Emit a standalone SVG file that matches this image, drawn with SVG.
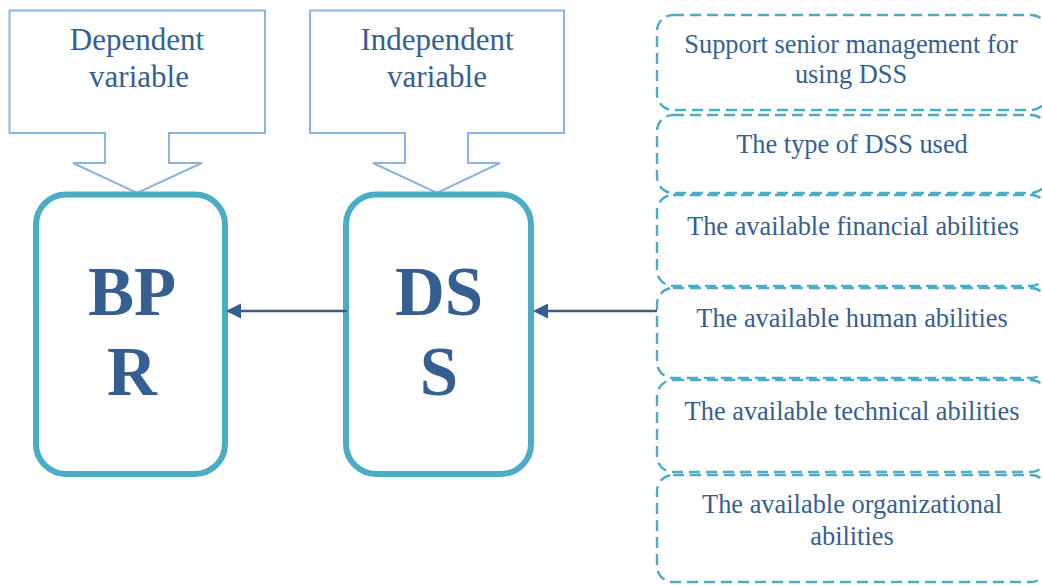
<svg xmlns="http://www.w3.org/2000/svg" width="1042" height="585" viewBox="0 0 1042 585">
  <defs>
    <marker id="arrowhead" markerUnits="userSpaceOnUse" markerWidth="16" markerHeight="16" refX="13" refY="7.5" orient="auto">
      <path d="M0,0 L15,7.5 L0,15 Z" fill="#365f91"/>
    </marker>
  </defs>

  <rect width="1042" height="585" fill="#ffffff"/>

  <!-- callout labels pointing down at the two variables -->
  <g fill="#ffffff" stroke="#8db3e2" stroke-width="2">
    <g id="dependent-label">
      <path d="M9.5,10.5 H265 V133 H169 V163 H202 L137,193 L73,163 H105 V133 H9.5 Z"/>
      <text x="137" y="50" font-family="Liberation Serif" font-size="31" fill="#365f91" stroke="none" text-anchor="middle">Dependent</text>
      <text x="139" y="87" font-family="Liberation Serif" font-size="31" fill="#365f91" stroke="none" text-anchor="middle">variable</text>
    </g>
    <g id="independent-label">
      <path d="M310,10.5 H564 V133 H468 V163 H500 L437,193 L373,163 H405 V133 H310 Z"/>
      <text x="437" y="50" font-family="Liberation Serif" font-size="31" fill="#365f91" stroke="none" text-anchor="middle">Independent</text>
      <text x="437" y="87" font-family="Liberation Serif" font-size="31" fill="#365f91" stroke="none" text-anchor="middle">variable</text>
    </g>
  </g>

  <!-- main variables -->
  <g fill="#ffffff" stroke="#4bacc6" stroke-width="6">
    <g id="bpr">
      <rect x="36" y="194.5" width="189" height="279.5" rx="30" ry="30"/>
      <text x="132" y="315" font-family="Liberation Serif" font-size="69" font-weight="bold" fill="#365f91" stroke="none" text-anchor="middle">BP</text>
      <text x="132" y="395" font-family="Liberation Serif" font-size="69" font-weight="bold" fill="#365f91" stroke="none" text-anchor="middle">R</text>
    </g>
    <g id="dss">
      <rect x="346" y="194.5" width="185" height="279.5" rx="30" ry="30"/>
      <text x="439" y="315" font-family="Liberation Serif" font-size="69" font-weight="bold" fill="#365f91" stroke="none" text-anchor="middle">DS</text>
      <text x="439" y="395" font-family="Liberation Serif" font-size="69" font-weight="bold" fill="#365f91" stroke="none" text-anchor="middle">S</text>
    </g>
  </g>

  <!-- influencing factors -->
  <g fill="none" stroke="#4bacc6" stroke-width="2.4" stroke-dasharray="11 6">
    <g id="factor-support">
      <rect x="657" y="15" width="390" height="95" rx="16" ry="16"/>
      <text x="851" y="53" font-family="Liberation Serif" font-size="26.4" fill="#365f91" stroke="none" text-anchor="middle">Support senior management for</text>
      <text x="851" y="83" font-family="Liberation Serif" font-size="26.4" fill="#365f91" stroke="none" text-anchor="middle">using DSS</text>
    </g>
    <g id="factor-type">
      <rect x="657" y="115" width="390" height="78" rx="16" ry="16"/>
      <text x="852" y="153" font-family="Liberation Serif" font-size="26.4" fill="#365f91" stroke="none" text-anchor="middle">The type of DSS used</text>
    </g>
    <g id="factor-financial">
      <rect x="657" y="195" width="390" height="91" rx="16" ry="16"/>
      <text x="853" y="235" font-family="Liberation Serif" font-size="26.4" fill="#365f91" stroke="none" text-anchor="middle">The available financial abilities</text>
    </g>
    <g id="factor-human">
      <rect x="657" y="288" width="390" height="90" rx="16" ry="16"/>
      <text x="852" y="327" font-family="Liberation Serif" font-size="26.4" fill="#365f91" stroke="none" text-anchor="middle">The available human abilities</text>
    </g>
    <g id="factor-technical">
      <rect x="657" y="380" width="390" height="92" rx="16" ry="16"/>
      <text x="852" y="420" font-family="Liberation Serif" font-size="26.4" fill="#365f91" stroke="none" text-anchor="middle">The available technical abilities</text>
    </g>
    <g id="factor-organizational">
      <rect x="657" y="475" width="390" height="107" rx="16" ry="16"/>
      <text x="852" y="513" font-family="Liberation Serif" font-size="26.4" fill="#365f91" stroke="none" text-anchor="middle">The available organizational</text>
      <text x="852" y="545" font-family="Liberation Serif" font-size="26.4" fill="#365f91" stroke="none" text-anchor="middle">abilities</text>
    </g>
  </g>

  <!-- connectors -->
  <g id="connectors" stroke="#365f91" stroke-width="2.5" fill="none">
    <line x1="347" y1="311" x2="228" y2="311" marker-end="url(#arrowhead)"/>
    <line x1="657" y1="311" x2="535" y2="311" marker-end="url(#arrowhead)"/>
  </g>
</svg>
